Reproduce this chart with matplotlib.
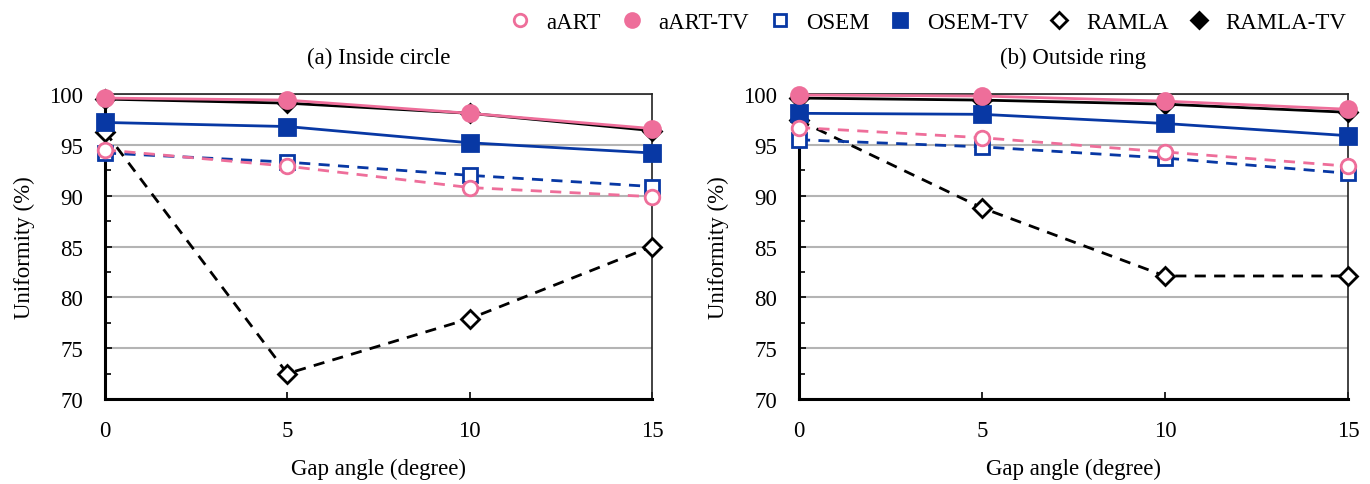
import matplotlib
matplotlib.use("Agg")
import matplotlib.pyplot as plt
from matplotlib.lines import Line2D
from matplotlib.ticker import MultipleLocator

plt.rcParams['font.family'] = ['Liberation Serif', 'DejaVu Serif']

gap_angles = [0, 5, 10, 15]

# (a) Inside circle
inside_aart = [94.5, 92.9, 90.8, 89.9]
inside_aart_tv = [99.6, 99.4, 98.1, 96.6]
inside_osem = [94.2, 93.3, 92.0, 90.9]
inside_osem_tv = [97.2, 96.8, 95.2, 94.2]
inside_ramla = [96.3, 72.5, 77.9, 85.0]
inside_ramla_tv = [99.5, 99.1, 98.1, 96.4]

# (b) Outside ring
outside_aart = [96.7, 95.7, 94.3, 92.9]
outside_aart_tv = [99.9, 99.8, 99.3, 98.5]
outside_osem = [95.5, 94.8, 93.7, 92.2]
outside_osem_tv = [98.1, 98.0, 97.1, 95.9]
outside_ramla = [97.4, 88.8, 82.1, 82.1]
outside_ramla_tv = [99.6, 99.4, 99.0, 98.2]

panel_titles = ["(a) Inside circle", "(b) Outside ring"]
series_names = ["aART", "aART-TV", "OSEM", "OSEM-TV", "RAMLA", "RAMLA-TV"]

PINK = "#EE6E9A"
BLUE = "#0838A4"
BLACK = "#000000"

styles = {
    "aART":     dict(color=PINK,  marker="o", ls="--", filled=False, ms=10.5),
    "aART-TV":  dict(color=PINK,  marker="o", ls="-",  filled=True,  ms=11.5),
    "OSEM":     dict(color=BLUE,  marker="s", ls="--", filled=False, ms=10.5),
    "OSEM-TV":  dict(color=BLUE,  marker="s", ls="-",  filled=True,  ms=11.5),
    "RAMLA":    dict(color=BLACK, marker="D", ls="--", filled=False, ms=9.5),
    "RAMLA-TV": dict(color=BLACK, marker="D", ls="-",  filled=True,  ms=9.5),
}
draw_order = ["RAMLA", "RAMLA-TV", "OSEM", "OSEM-TV", "aART", "aART-TV"]

panels = [
    dict(zip(series_names, [inside_aart, inside_aart_tv, inside_osem,
                            inside_osem_tv, inside_ramla, inside_ramla_tv])),
    dict(zip(series_names, [outside_aart, outside_aart_tv, outside_osem,
                            outside_osem_tv, outside_ramla, outside_ramla_tv])),
]

fig = plt.figure(figsize=(13.7, 4.85), dpi=100)
rects = [[105 / 1370, 1 - 400 / 485, 547 / 1370, 305 / 485],
         [799 / 1370, 1 - 400 / 485, 549 / 1370, 305 / 485]]

FS = 16.5
for rect, data, title in zip(rects, panels, panel_titles):
    ax = fig.add_axes(rect)
    for name in draw_order:
        st = styles[name]
        ax.plot(gap_angles, data[name], color=st["color"], ls=st["ls"],
                lw=2.0, marker=st["marker"], ms=st["ms"],
                mfc=st["color"] if st["filled"] else "white",
                mec=st["color"], mew=2.0, clip_on=False, zorder=3,
                dashes=(4, 3) if st["ls"] == "--" else (None, None))
    ax.set_xlim(0, 15)
    ax.set_ylim(70, 100)
    ax.set_xticks(gap_angles)
    ax.yaxis.set_major_locator(MultipleLocator(5))
    ax.yaxis.set_minor_locator(MultipleLocator(2.5))
    ax.grid(axis="y", which="major", color="#B4B4B4", lw=1.5, zorder=0)
    ax.set_axisbelow(True)
    for side in ("left", "bottom"):
        ax.spines[side].set_linewidth(2.2)
        ax.spines[side].set_color("black")
    for side in ("top", "right"):
        ax.spines[side].set_linewidth(1.2)
        ax.spines[side].set_color("#222222")
    ax.tick_params(axis="both", which="both", direction="in", labelsize=FS,
                   width=1.2)
    ax.tick_params(axis="y", which="major", length=5, pad=16)
    ax.tick_params(axis="y", which="minor", length=4)
    ax.tick_params(axis="x", which="major", length=5, pad=15)
    ax.set_xlabel("Gap angle (degree)", fontsize=FS, labelpad=12)
    ax.set_ylabel("Uniformity (%)", fontsize=FS, labelpad=10)
    ax.set_title(title, fontsize=FS, pad=22)

handles = []
for name in series_names:
    st = styles[name]
    handles.append(Line2D([], [], ls="none", marker=st["marker"],
                          ms=st["ms"] - 1.5,
                          mfc=st["color"] if st["filled"] else "white",
                          mec=st["color"], mew=2.0, label=name))
fig.legend(handles=handles, loc="upper right", bbox_to_anchor=(0.998, 1.015),
           ncol=6, frameon=False, fontsize=FS, handletextpad=0.75,
           columnspacing=0.95, handlelength=0.8)

fig.savefig("out.png", dpi=100)
